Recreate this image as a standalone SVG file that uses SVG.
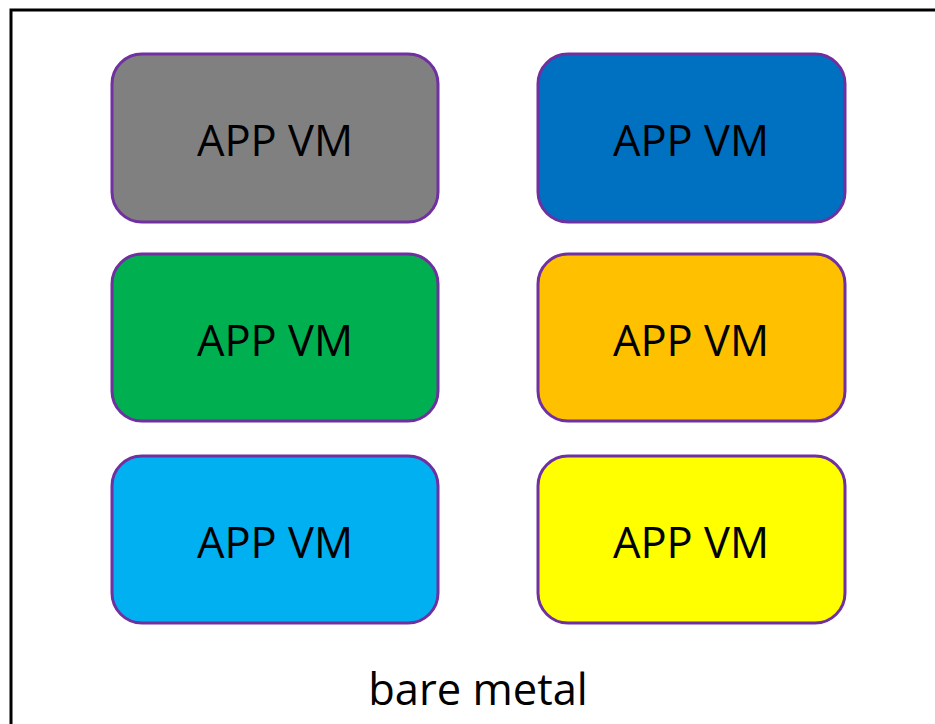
<svg xmlns="http://www.w3.org/2000/svg" width="935" height="724" viewBox="0 0 935 724">
<style>
.vm{stroke:#7030A0;stroke-width:3}
.lbl{font-family:"Open Sans","Liberation Sans",sans-serif;font-size:43.5px;fill:#000;text-anchor:middle}
</style>
<rect x="0" y="0" width="935" height="724" fill="#fff"/>
<rect id="frame" x="11" y="10" width="940" height="730" fill="none" stroke="#000" stroke-width="3"/>
<g id="vm1"><rect class="vm" x="112" y="54" width="326" height="168" rx="30" fill="#808080"/><text class="lbl" x="275" y="156">APP VM</text></g>
<g id="vm2"><rect class="vm" x="538" y="54" width="307" height="168" rx="30" fill="#0070C0"/><text class="lbl" x="691" y="156">APP VM</text></g>
<g id="vm3"><rect class="vm" x="112" y="254" width="326" height="167" rx="30" fill="#00B050"/><text class="lbl" x="275" y="356">APP VM</text></g>
<g id="vm4"><rect class="vm" x="538" y="254" width="307" height="167" rx="30" fill="#FFC000"/><text class="lbl" x="691" y="356">APP VM</text></g>
<g id="vm5"><rect class="vm" x="112" y="456" width="326" height="167" rx="30" fill="#00B0F0"/><text class="lbl" x="275" y="558">APP VM</text></g>
<g id="vm6"><rect class="vm" x="538" y="456" width="307" height="167" rx="30" fill="#FFFF00"/><text class="lbl" x="691" y="558">APP VM</text></g>
<g id="connectors"/>
<text id="bare" class="lbl" x="478" y="705">bare metal</text>
</svg>
